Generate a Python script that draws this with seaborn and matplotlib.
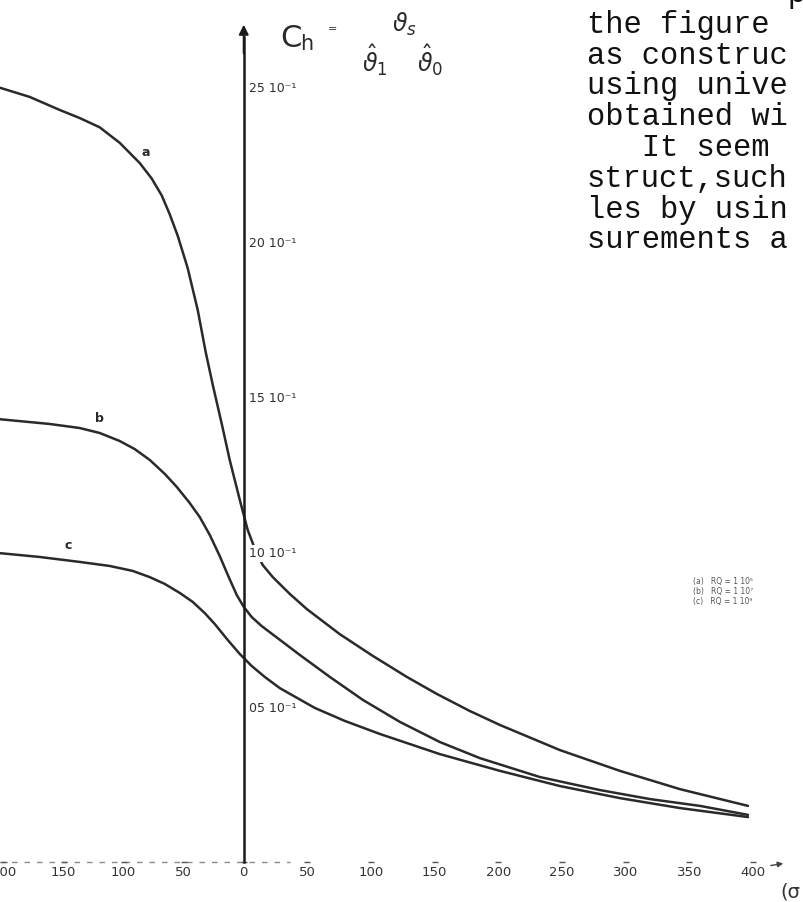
import numpy as np
import pandas as pd
import matplotlib
matplotlib.use("Agg")
import matplotlib.pyplot as plt
import seaborn as sns

# ---- curve data: abscissa and C_h (in units of 10^-1) ----
x_a = [-205, -178.3, -153.3, -136.7, -120, -103.3, -86.7, -76.7, -68.3, -61.7,
       -55, -46.7, -38.3, -31.7, -25.8, -18.3, -11.7, -3.3, 3.1, 9.4, 14.9,
       22.8, 36.1, 49.5, 75.4, 101.3, 128.1, 151.7, 177.6, 201.2, 248.3,
       295.4, 342.6, 396]
ch_a = [2.50, 2.468, 2.426, 2.40, 2.37, 2.32, 2.255, 2.205, 2.15, 2.09, 2.02,
        1.916, 1.78, 1.645, 1.539, 1.413, 1.297, 1.168, 1.071, 1.003, 0.958,
        0.919, 0.865, 0.816, 0.735, 0.665, 0.597, 0.542, 0.487, 0.442, 0.361,
        0.294, 0.235, 0.181]

x_b = [-205, -161.7, -136.7, -120, -103.3, -90.8, -78.3, -65.8, -55.8, -45,
       -36.7, -28.3, -20, -12.5, -5.8, 0, 6.3, 14.1, 24.4, 44, 67.6, 93.5,
       122.6, 154, 185.5, 232.6, 279.8, 319, 358.3, 396]
ch_b = [1.429, 1.413, 1.40, 1.384, 1.358, 1.332, 1.297, 1.252, 1.21, 1.158,
        1.113, 1.055, 0.987, 0.919, 0.861, 0.823, 0.79, 0.761, 0.729, 0.668,
        0.597, 0.523, 0.452, 0.387, 0.335, 0.274, 0.232, 0.203, 0.181, 0.152]

x_c = [-205, -170, -136.7, -111.7, -92.5, -78.3, -65.8, -53.3, -42.5, -32.5,
       -24.2, -13.3, -3.3, 6.3, 16.5, 28.3, 37.7, 55.8, 79.4, 106.9, 154,
       201.2, 248.3, 295.5, 342.6, 396]
ch_c = [0.997, 0.984, 0.968, 0.955, 0.939, 0.919, 0.897, 0.868, 0.839, 0.803,
        0.768, 0.716, 0.671, 0.632, 0.597, 0.561, 0.539, 0.497, 0.455, 0.413,
        0.348, 0.294, 0.245, 0.206, 0.174, 0.145]

curve_names = ["a", "b", "c"]
curve_label_pos = {"a": (-82, 2.29), "b": (-120, 1.43), "c": (-146, 1.02)}

x_ticks = [-200, -150, -100, -50, 0, 50, 100, 150, 200, 250, 300, 350, 400]
x_tick_labels = ["200", "150", "100", "50", "0", "50", "100", "150", "200",
                 "250", "300", "350", "400"]
y_ticks = [0.5, 1.0, 1.5, 2.0, 2.5]
y_tick_labels = ["05 10\u207b\u00b9", "10 10\u207b\u00b9", "15 10\u207b\u00b9",
                 "20 10\u207b\u00b9", "25 10\u207b\u00b9"]
y_minor = [v / 10 for v in range(1, 27)]

legend_lines = ["(a)   RQ = 1 10\u2075",
                "(b)   RQ = 1 10\u2077",
                "(c)   RQ = 1 10\u2079"]

page_text = ["           p",
             "the figure",
             "as construc",
             "using unive",
             "obtained wi",
             "   It seem",
             "struct,such",
             "les by usin",
             "surements a"]

# ---- figure ----
sns.set_style("white")
plt.rcParams["font.family"] = ["DejaVu Sans"]

W, H = 804, 902
fig = plt.figure(figsize=(W / 100, H / 100), dpi=100)
ax = fig.add_axes([0, 40 / H, 1, 862 / H])


def fwd(x):
    x = np.asarray(x, dtype=float)
    return np.where(x < 0, x * 1.2, x * 1.2725)


def inv(p):
    p = np.asarray(p, dtype=float)
    return np.where(p < 0, p / 1.2, p / 1.2725)


ax.set_xscale("function", functions=(fwd, inv))

df = pd.concat([
    pd.DataFrame({"x": x_a, "ch": ch_a, "curve": "a"}),
    pd.DataFrame({"x": x_b, "ch": ch_b, "curve": "b"}),
    pd.DataFrame({"x": x_c, "ch": ch_c, "curve": "c"}),
])
ink = "#2a2a2a"
sns.lineplot(data=df, x="x", y="ch", hue="curve", units="curve",
             estimator=None, sort=False, palette={k: ink for k in curve_names},
             linewidth=1.8, legend=False, ax=ax)
for ln in ax.get_lines():
    ln.set_solid_joinstyle("round")

ax.set_xlim(-203, 440)
ax.set_ylim(0, 862 / 310)
ax.set_xlabel("")
ax.set_ylabel("")

for k in curve_names:
    px, py = curve_label_pos[k]
    ax.text(px, py, k, fontsize=9, color=ink, ha="center", va="center",
            fontweight="bold")

# vertical axis through the origin, with arrow
for s in ["top", "right", "bottom"]:
    ax.spines[s].set_visible(False)
ax.spines["left"].set_position(("data", 0))
ax.spines["left"].set_bounds(0, 2.66)
ax.spines["left"].set_linewidth(1.8)
ax.spines["left"].set_color("#1a1a1a")
ax.annotate("", xy=(0, 2.71), xytext=(0, 2.60),
            arrowprops=dict(arrowstyle="-|>", color="#1a1a1a", lw=1.5,
                            mutation_scale=14))
ax.set_axisbelow(False)

ax.set_yticks(y_ticks, y_tick_labels, ha="left")
ax.set_yticks(y_minor, minor=True)
ax.tick_params(axis="y", which="major", direction="out", length=4, width=1.2,
               pad=-7.5, labelsize=9, labelcolor="#303030", color="#1a1a1a")
ax.tick_params(axis="y", which="minor", direction="inout", length=2.5,
               width=0.9, color="#333333")
for lbl in ax.get_yticklabels():
    lbl.set_bbox(dict(facecolor="white", edgecolor="none", pad=1.5))

# horizontal axis: faint dashed line on the left, tick dashes, labels
ax.hlines(0, -205, 36, colors="#8a8a8a", linestyles=(0, (4, 5)), lw=1.0,
          clip_on=False)
ax.plot(x_ticks, [0.0] * len(x_ticks), ls="none", marker="_", ms=5,
        mew=1.0, color="#555555", clip_on=False)
ax.set_xticks(x_ticks, x_tick_labels)
ax.tick_params(axis="x", length=0, pad=3, labelsize=9.5, labelcolor="#333333")


# quantity on the vertical axis
def px_text(x, y, s, **kw):
    fig.text(x / W, 1 - y / H, s, **kw)


px_text(280, 47, "C", fontsize=22, color=ink, va="baseline")
px_text(300, 50, "h", fontsize=15, color=ink, va="baseline")
px_text(333, 32, "=", fontsize=8, color=ink, ha="center", va="baseline")
px_text(392, 32, r"$\vartheta_{s}$", fontsize=17, color=ink, va="baseline")
px_text(362, 72, r"$\hat{\vartheta}_{1}$", fontsize=17, color=ink,
        va="baseline")
px_text(417, 72, r"$\hat{\vartheta}_{0}$", fontsize=17, color=ink,
        va="baseline")

# legend of the three cases
for i, line in enumerate(legend_lines):
    px_text(693, 584 + 10 * i, line, fontsize=5.5, color="#555555",
            va="baseline")

# running text of the page
for i, line in enumerate(page_text):
    px_text(587, 2 + 30.8 * i, line, fontsize=22, color="#111111",
            va="baseline", family="Liberation Mono")

# abscissa arrow and symbol at the lower right
fig.add_artist(matplotlib.patches.FancyArrowPatch(
    (768 / W, 1 - 866 / H), (786 / W, 1 - 863 / H),
    transform=fig.transFigure, arrowstyle="-|>", mutation_scale=8,
    color="#444444", lw=1.0))
px_text(780, 898, "(\u03c3", fontsize=14, color="#333333", va="baseline")

fig.savefig("out.png", dpi=100)
